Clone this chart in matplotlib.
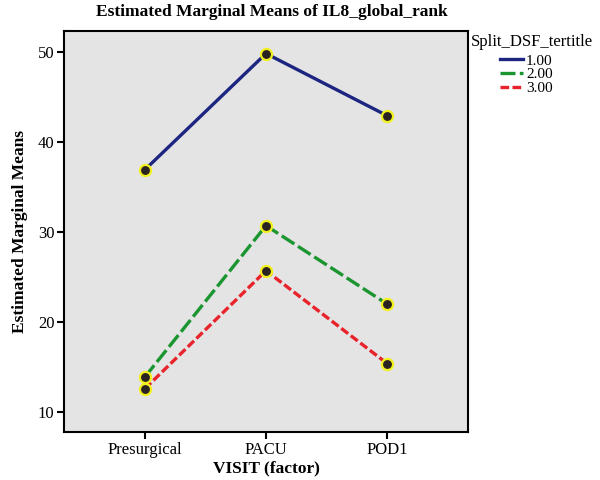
import matplotlib
matplotlib.use("Agg")
import matplotlib.pyplot as plt

visits = ["Presurgical", "PACU", "POD1"]
groups = ["1.00", "2.00", "3.00"]
means_1 = [36.9, 49.8, 42.9]
means_2 = [13.9, 30.7, 22.0]
means_3 = [12.6, 25.7, 15.4]
yticks = [10, 20, 30, 40, 50]

plt.rcParams['font.family'] = ['Liberation Serif', 'DejaVu Serif']

fig = plt.figure(figsize=(6, 4.8), dpi=100)
ax = fig.add_axes([64/600, 1-432/480, (468-64)/600, (432-31)/480])
ax.set_facecolor('#e4e4e4')

colors = ['#1c2580', '#1b9530', '#e8232b']
styles = ['-', (0, (4.5, 1.3)), (0, (2.6, 1.0))]
series = [means_1, means_2, means_3]
x = list(range(len(visits)))
handles = []
for vals, c, ls, g in zip(series, colors, styles, groups):
    h, = ax.plot(x, vals, color=c, lw=2.4, ls=ls, label=g, zorder=2)
    ax.plot(x, vals, ls='none', marker='o', ms=8, mfc='#2b2222',
            mec='#f2f01e', mew=1.6, zorder=3)
    handles.append(h)

ax.set_xlim(-0.667, 2.667)
ax.set_ylim(7.8, 52.3)
ax.set_xticks(x)
ax.set_xticklabels(visits, fontsize=12)
ax.set_yticks(yticks)
ax.set_yticklabels([str(t) for t in yticks], fontsize=12)
ax.tick_params(direction='out', length=5, width=1.5, color='black', pad=2)
for s in ax.spines.values():
    s.set_linewidth(1.5)
    s.set_color('black')

ax.set_xlabel("VISIT (factor)", fontsize=12.5, fontweight='bold', labelpad=2)
ax.set_ylabel("Estimated Marginal Means", fontsize=12.5, fontweight='bold', labelpad=7)
fig.text(272/600, 1-12/480, "Estimated Marginal Means of IL8_global_rank",
         ha='center', va='center', fontsize=12.5, fontweight='bold')

fig.text(471/600, 1-42/480, "Split_DSF_tertitle", ha='left', va='center', fontsize=12)
leg = fig.legend(handles=handles, labels=groups, loc='upper left',
                 bbox_to_anchor=(500/600, 1-54/480), frameon=False,
                 fontsize=11, handlelength=1.5, handletextpad=0.2,
                 labelspacing=0.0, borderpad=0, borderaxespad=0)

fig.savefig("out.png", dpi=100)
